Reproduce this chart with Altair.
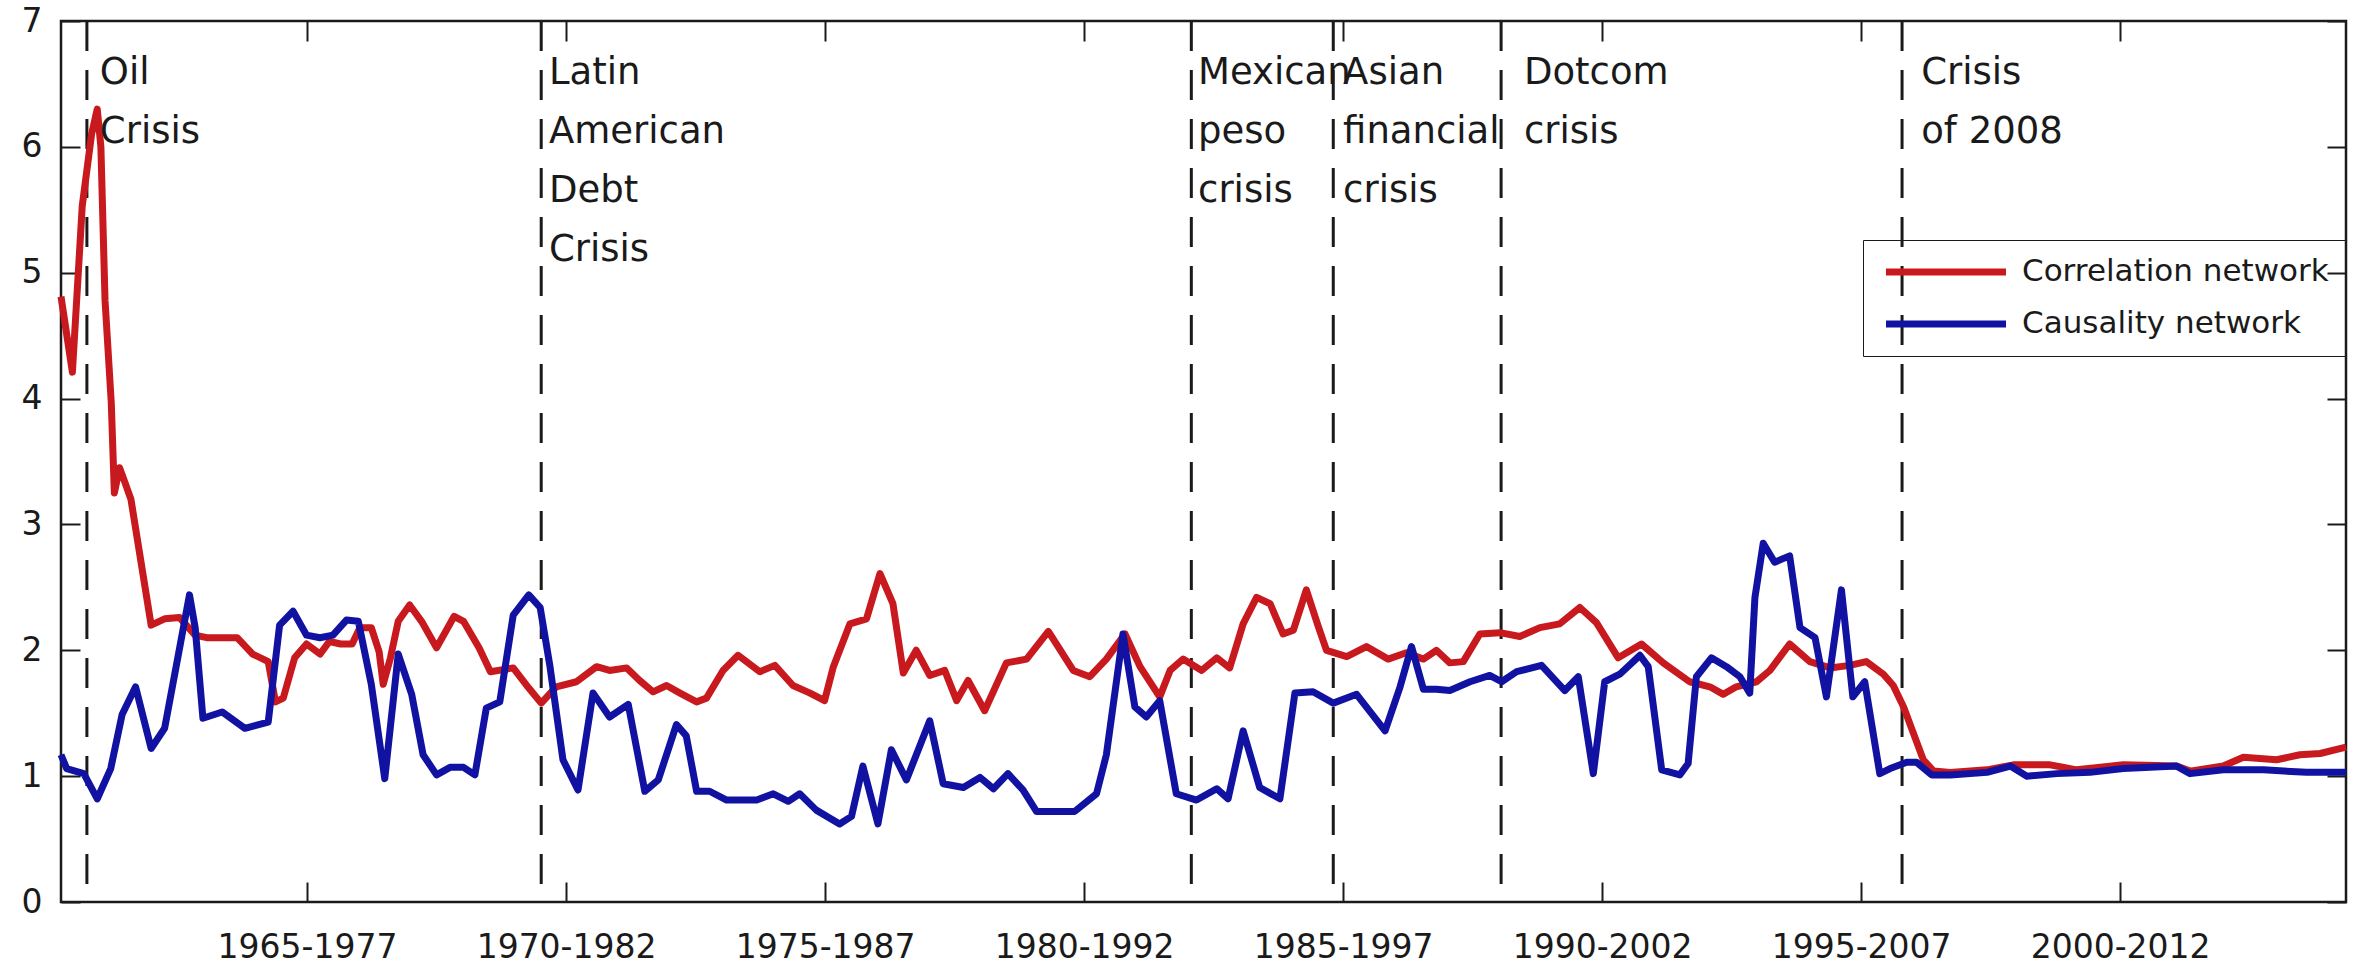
import altair as alt
import pandas as pd

# Start year of each 12-year rolling window and the network measure for it
corr_year = [
    1960.25, 1960.47, 1960.66, 1960.84, 1960.95, 1961.02, 1961.10, 1961.22, 1961.28, 1961.38,
    1961.47, 1961.60, 1961.99, 1962.25, 1962.54, 1962.84, 1963.06, 1963.65, 1963.95, 1964.25,
    1964.39, 1964.54, 1964.76, 1964.99, 1965.25, 1965.43, 1965.65, 1965.87, 1966.02, 1966.24,
    1966.39, 1966.47, 1966.61, 1966.76, 1966.98, 1967.21, 1967.50, 1967.84, 1968.02, 1968.32,
    1968.54, 1968.98, 1969.28, 1969.52, 1969.81, 1970.20, 1970.59, 1970.84, 1971.17, 1971.42,
    1971.68, 1971.94, 1972.20, 1972.52, 1972.71, 1973.03, 1973.32, 1973.74, 1974.03, 1974.38,
    1974.71, 1974.99, 1975.16, 1975.48, 1975.80, 1976.06, 1976.31, 1976.51, 1976.76, 1977.02,
    1977.31, 1977.54, 1977.76, 1978.08, 1978.50, 1978.89, 1979.31, 1979.79, 1980.11, 1980.43,
    1980.79, 1981.08, 1981.46, 1981.66, 1981.91, 1982.27, 1982.56, 1982.81, 1983.07, 1983.33,
    1983.59, 1983.84, 1984.04, 1984.29, 1984.52, 1984.68, 1985.07, 1985.45, 1985.87, 1986.22,
    1986.55, 1986.80, 1987.06, 1987.32, 1987.64, 1988.03, 1988.41, 1988.80, 1989.18, 1989.57,
    1989.89, 1990.31, 1990.76, 1991.18, 1991.69, 1992.08, 1992.34, 1992.59, 1992.98, 1993.24,
    1993.62, 1994.01, 1994.40, 1994.78, 1995.10, 1995.43, 1995.62, 1995.82, 1996.01, 1996.20,
    1996.40, 1996.72, 1997.43, 1997.94, 1998.65, 1999.16, 2000.06, 2001.09, 2001.35, 2001.99,
    2002.38, 2003.02, 2003.47, 2003.86, 2004.36,
]
corr_value = [
    4.81, 4.21, 5.53, 6.10, 6.30, 6.00, 4.78, 3.97, 3.25, 3.45,
    3.35, 3.20, 2.20, 2.25, 2.26, 2.12, 2.10, 2.10, 1.97, 1.91,
    1.59, 1.62, 1.94, 2.05, 1.97, 2.07, 2.05, 2.05, 2.18, 2.18,
    1.99, 1.73, 1.94, 2.23, 2.36, 2.23, 2.02, 2.27, 2.23, 2.02,
    1.83, 1.86, 1.70, 1.58, 1.71, 1.75, 1.87, 1.84, 1.86, 1.76,
    1.67, 1.72, 1.66, 1.59, 1.62, 1.84, 1.96, 1.83, 1.88, 1.72,
    1.66, 1.60, 1.87, 2.21, 2.25, 2.61, 2.37, 1.82, 2.00, 1.80,
    1.84, 1.60, 1.76, 1.52, 1.90, 1.93, 2.15, 1.84, 1.79, 1.93,
    2.13, 1.87, 1.63, 1.84, 1.93, 1.84, 1.94, 1.86, 2.21, 2.42,
    2.37, 2.13, 2.16, 2.48, 2.19, 2.00, 1.95, 2.03, 1.93, 1.98,
    1.93, 2.00, 1.90, 1.91, 2.13, 2.14, 2.11, 2.18, 2.21, 2.34,
    2.22, 1.94, 2.05, 1.90, 1.75, 1.71, 1.65, 1.71, 1.75, 1.84,
    2.05, 1.91, 1.86, 1.88, 1.91, 1.81, 1.72, 1.55, 1.34, 1.13,
    1.04, 1.03, 1.05, 1.09, 1.09, 1.05, 1.09, 1.08, 1.04, 1.08,
    1.15, 1.13, 1.17, 1.18, 1.23,
]

caus_year = [
    1960.25, 1960.36, 1960.69, 1960.95, 1961.21, 1961.43, 1961.69, 1961.99, 1962.25, 1962.54,
    1962.73, 1962.84, 1962.99, 1963.36, 1963.80, 1964.25, 1964.47, 1964.73, 1964.99, 1965.25,
    1965.50, 1965.76, 1965.99, 1966.24, 1966.50, 1966.76, 1967.02, 1967.24, 1967.50, 1967.76,
    1968.02, 1968.24, 1968.46, 1968.72, 1968.98, 1969.28, 1969.50, 1969.69, 1969.94, 1970.23,
    1970.52, 1970.84, 1971.20, 1971.52, 1971.78, 1972.13, 1972.32, 1972.52, 1972.77, 1973.10,
    1973.68, 1974.00, 1974.29, 1974.51, 1974.83, 1975.28, 1975.51, 1975.73, 1976.02, 1976.28,
    1976.57, 1977.02, 1977.28, 1977.67, 1977.99, 1978.25, 1978.53, 1978.82, 1979.08, 1979.82,
    1980.24, 1980.43, 1980.75, 1980.98, 1981.20, 1981.46, 1981.78, 1982.17, 1982.56, 1982.78,
    1983.07, 1983.39, 1983.78, 1984.07, 1984.42, 1984.81, 1985.26, 1985.81, 1986.10, 1986.32,
    1986.55, 1986.80, 1987.06, 1987.45, 1987.83, 1988.06, 1988.35, 1988.83, 1989.28, 1989.54,
    1989.83, 1990.05, 1990.34, 1990.73, 1990.89, 1991.15, 1991.50, 1991.66, 1991.82, 1992.11,
    1992.40, 1992.66, 1992.85, 1992.95, 1993.11, 1993.33, 1993.62, 1993.82, 1994.11, 1994.33,
    1994.62, 1994.84, 1995.07, 1995.36, 1995.56, 1995.88, 1996.07, 1996.36, 1996.72, 1997.43,
    1997.88, 1998.20, 1998.78, 1999.42, 2000.06, 2001.09, 2001.35, 2001.99, 2002.77, 2003.60,
    2004.36,
]
caus_value = [
    1.17, 1.06, 1.02, 0.82, 1.06, 1.49, 1.71, 1.22, 1.38, 2.02,
    2.44, 2.18, 1.46, 1.51, 1.38, 1.43, 2.20, 2.31, 2.12, 2.10,
    2.12, 2.24, 2.23, 1.73, 0.98, 1.97, 1.65, 1.17, 1.01, 1.07,
    1.07, 1.01, 1.54, 1.59, 2.28, 2.44, 2.34, 1.87, 1.13, 0.89,
    1.66, 1.47, 1.57, 0.88, 0.97, 1.41, 1.32, 0.88, 0.88, 0.81,
    0.81, 0.86, 0.80, 0.86, 0.73, 0.62, 0.68, 1.08, 0.62, 1.21,
    0.97, 1.44, 0.94, 0.91, 0.99, 0.90, 1.02, 0.89, 0.72, 0.72,
    0.86, 1.17, 2.13, 1.55, 1.47, 1.60, 0.86, 0.81, 0.90, 0.82,
    1.36, 0.91, 0.82, 1.66, 1.67, 1.58, 1.65, 1.36, 1.71, 2.03,
    1.69, 1.69, 1.68, 1.75, 1.80, 1.75, 1.83, 1.88, 1.68, 1.79,
    1.02, 1.75, 1.81, 1.96, 1.87, 1.05, 1.01, 1.10, 1.79, 1.94,
    1.87, 1.79, 1.66, 2.42, 2.85, 2.70, 2.75, 2.18, 2.10, 1.63,
    2.48, 1.63, 1.75, 1.02, 1.06, 1.11, 1.11, 1.01, 1.01, 1.03,
    1.08, 1.00, 1.02, 1.03, 1.06, 1.08, 1.02, 1.05, 1.05, 1.03,
    1.03,
]

series_names = ["Correlation network", "Causality network"]
series_colors = ["#c8191e", "#1212a2"]

# Crisis markers: dashed line position, label anchor and label text
crisis_year = [1960.75, 1969.52, 1982.07, 1984.81, 1988.05, 1995.79]
crisis_label_year = [1961.00, 1969.67, 1982.20, 1985.00, 1988.49, 1996.16]
crisis_label = [
    "Oil\nCrisis",
    "Latin\nAmerican\nDebt\nCrisis",
    "Mexican\npeso\ncrisis",
    "Asian\nfinancial\ncrisis",
    "Dotcom\ncrisis",
    "Crisis\nof 2008",
]
crisis_label_level = 6.5

x_ticks = [1965, 1970, 1975, 1980, 1985, 1990, 1995, 2000]
y_ticks = [0, 1, 2, 3, 4, 5, 6, 7]
x_domain = [1960.25, 2004.36]
y_domain = [0, 7]

INK = "#1a1a1a"
FONT = "DejaVu Sans"

lines_df = pd.concat(
    [
        pd.DataFrame({"year": corr_year, "value": corr_value, "series": series_names[0]}),
        pd.DataFrame({"year": caus_year, "value": caus_value, "series": series_names[1]}),
    ],
    ignore_index=True,
)
crisis_df = pd.DataFrame({"year": crisis_year})
label_df = pd.DataFrame(
    {"year": crisis_label_year, "level": crisis_label_level, "label": crisis_label}
)

x_scale = alt.Scale(domain=x_domain, nice=False, zero=False)
y_scale = alt.Scale(domain=y_domain, nice=False, zero=False)

# Inward-pointing ticks: move each axis into the plot by the tick length
common_axis = dict(
    domain=False, grid=False, title=None, tickColor=INK, tickWidth=2,
    labelFont=FONT, labelFontSize=33, labelColor=INK,
)
x_axis_bottom = alt.Axis(
    orient="bottom", values=x_ticks, offset=-20, tickSize=20, labelPadding=29,
    labelExpr="datum.value + '-' + (datum.value + 12)",
    labelFlush=False, labelOverlap=False, **common_axis,
)
y_axis_left = alt.Axis(
    orient="left", values=y_ticks, offset=-19, tickSize=19, labelPadding=19,
    labelOverlap=False, **common_axis,
)
x_axis_top = alt.Axis(
    orient="top", values=x_ticks, offset=-20, tickSize=20, labels=False, **common_axis,
)
y_axis_right = alt.Axis(
    orient="right", values=y_ticks, offset=-19, tickSize=19, labels=False, **common_axis,
)

legend = alt.Legend(
    title=None, orient="none", legendX=1802, legendY=219, direction="vertical",
    symbolType="M-5,0H5", symbolSize=576, symbolStrokeWidth=7, symbolOffset=51,
    labelOffset=60.5, labelFont=FONT, labelFontSize=31, labelColor=INK, labelLimit=0,
    rowPadding=20, padding=16.5, strokeColor=INK,
)

lines = alt.Chart(lines_df).mark_line(strokeWidth=7, strokeJoin="round").encode(
    x=alt.X("year:Q", scale=x_scale, axis=x_axis_bottom),
    y=alt.Y("value:Q", scale=y_scale, axis=y_axis_left),
    color=alt.Color(
        "series:N", scale=alt.Scale(domain=series_names, range=series_colors),
        sort=series_names, legend=legend,
    ),
)

mirror = alt.Chart(lines_df).mark_point(opacity=0).encode(
    x=alt.X("year:Q", scale=x_scale, axis=x_axis_top),
    y=alt.Y("value:Q", scale=y_scale, axis=y_axis_right),
)

crisis_rules = alt.Chart(crisis_df).mark_rule(
    color=INK, strokeWidth=3, strokeDash=[30, 19]
).encode(x=alt.X("year:Q", scale=x_scale, axis=None))

crisis_text = alt.Chart(label_df).mark_text(
    align="left", baseline="alphabetic", lineBreak="\n", lineHeight=59,
    font=FONT, fontSize=37, color=INK,
).encode(
    x=alt.X("year:Q", scale=x_scale, axis=None),
    y=alt.Y("level:Q", scale=y_scale, axis=None),
    text="label:N",
)

chart = (
    alt.layer(crisis_rules, lines, crisis_text, mirror)
    .resolve_axis(x="independent", y="independent")
    .properties(
        width=2285,
        height=881,
        autosize=alt.AutoSizeParams(type="none"),
        padding={"left": 61, "top": 21, "right": 15, "bottom": 64},
        background="white",
    )
    .configure_view(stroke=INK, strokeWidth=2.5)
)

chart.save("out.html", embed_options={"renderer": "svg", "actions": False})
